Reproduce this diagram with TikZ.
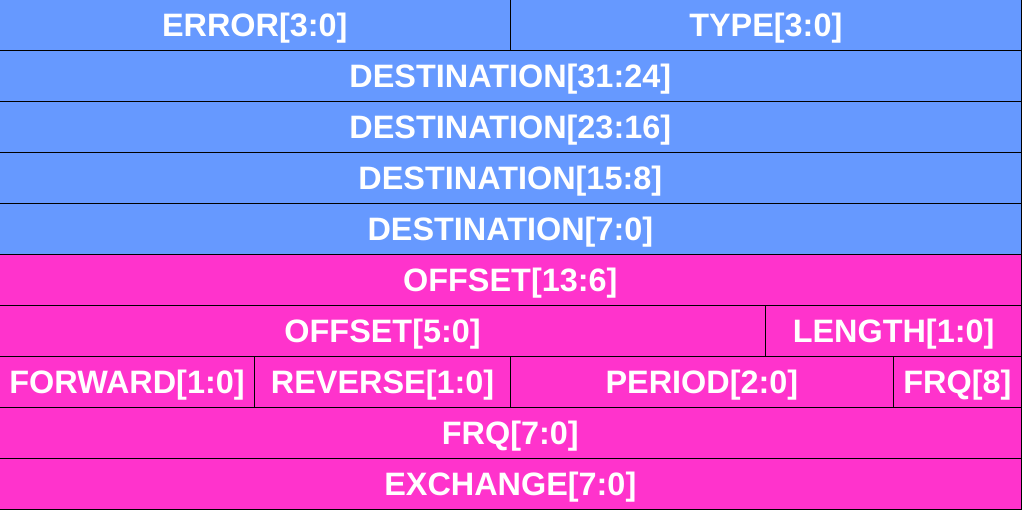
\documentclass[tikz,border=0pt]{standalone}
\usepackage{fontspec}
\setmainfont{Liberation Sans}
\definecolor{hdrblue}{HTML}{6699FF}
\definecolor{bodypink}{HTML}{FF33CC}
\tikzset{
  fieldbox/.style={draw=black, line width=1pt, rectangle, inner sep=0pt,
    minimum height=51pt, text=white, text height=23pt, text depth=0pt,
    font=\fontsize{32.4}{32.4}\selectfont\bfseries},
}
\newcommand\field[6]{%
  \pgfmathsetmacro\fw{(#4-#3)*127.75}%
  \pgfmathsetmacro\fx{(#3+#4)/2*127.75}%
  \pgfmathsetmacro\fy{-(#2+0.5)*51}%
  \node[fieldbox, fill=#5, minimum width=\fw pt] (#1) at (\fx pt,\fy pt) {#6};}
\begin{document}
\begin{tikzpicture}[x=1pt,y=1pt]
\useasboundingbox (0.7,-0.7) rectangle (1024.7,-512.7);
\fill[white] (0.7,-0.7) rectangle (1024.7,-512.7);
\field{err}{0}{0}{4}{hdrblue}{ERROR[3:0]}
\field{typ}{0}{4}{8}{hdrblue}{TYPE[3:0]}
\field{d3}{1}{0}{8}{hdrblue}{DESTINATION[31:24]}
\field{d2}{2}{0}{8}{hdrblue}{DESTINATION[23:16]}
\field{d1}{3}{0}{8}{hdrblue}{DESTINATION[15:8]}
\field{d0}{4}{0}{8}{hdrblue}{DESTINATION[7:0]}
\field{offhi}{5}{0}{8}{bodypink}{OFFSET[13:6]}
\field{offlo}{6}{0}{6}{bodypink}{OFFSET[5:0]}
\field{len}{6}{6}{8}{bodypink}{LENGTH[1:0]}
\field{fwd}{7}{0}{2}{bodypink}{FORWARD[1:0]}
\field{rev}{7}{2}{4}{bodypink}{REVERSE[1:0]}
\field{per}{7}{4}{7}{bodypink}{PERIOD[2:0]}
\field{frqhi}{7}{7}{8}{bodypink}{FRQ[8]}
\field{frqlo}{8}{0}{8}{bodypink}{FRQ[7:0]}
\field{exch}{9}{0}{8}{bodypink}{EXCHANGE[7:0]}
\end{tikzpicture}
\end{document}
